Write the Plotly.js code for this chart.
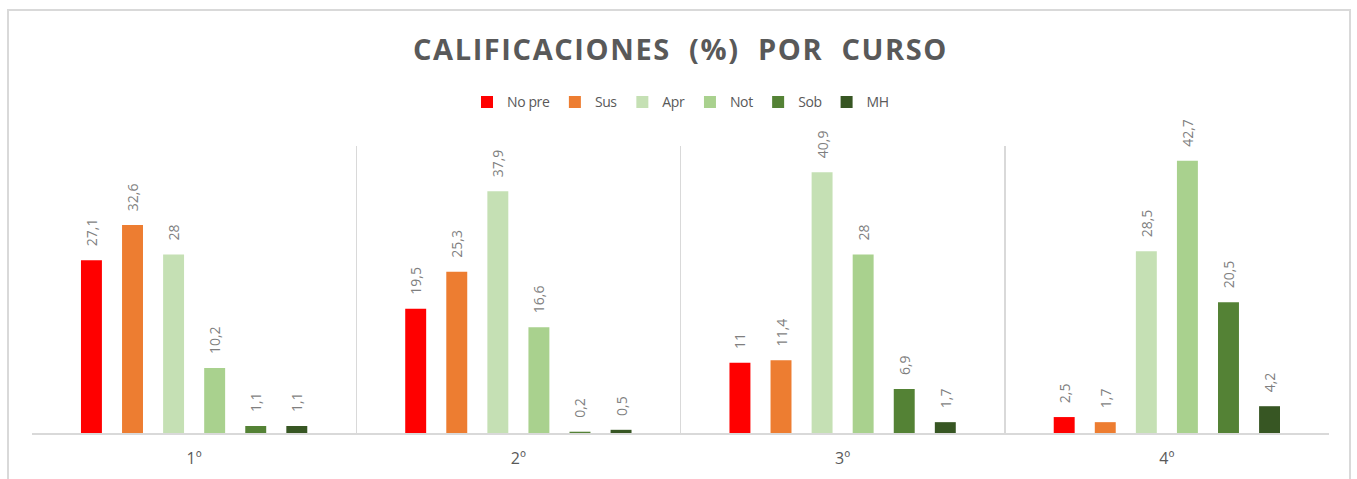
<!DOCTYPE html>
<html>
<head>
<meta charset="utf-8">
<script src="https://cdn.plot.ly/plotly-3.0.1.min.js"></script>
<style>
html, body { margin: 0; padding: 0; background: #ffffff; }
#wrap { position: relative; width: 1357px; height: 479px; overflow: hidden; }
#chart { position: absolute; left: 0; top: 0; width: 1357px; height: 479px; }
#frame { position: absolute; left: 7px; top: 9px; width: 1344px; height: 500px;
  border: 2px solid #d9d9d9; box-sizing: border-box; pointer-events: none; }
.gtitle { letter-spacing: 1.6px; }
.legendtext { letter-spacing: -0.4px; }
</style>
</head>
<body>
<div id="wrap">
  <div id="chart"></div>
  <div id="frame"></div>
</div>
<script>
const categories = ["1º", "2º", "3º", "4º"];
const seriesNames = ["No pre", "Sus", "Apr", "Not", "Sob", "MH"];
const noPre = [27.1, 19.5, 11, 2.5];
const sus = [32.6, 25.3, 11.4, 1.7];
const apr = [28, 37.9, 40.9, 28.5];
const notable = [10.2, 16.6, 28, 42.7];
const sob = [1.1, 0.2, 6.9, 20.5];
const mh = [1.1, 0.5, 1.7, 4.2];
const seriesValues = [noPre, sus, apr, notable, sob, mh];
const colors = ["#ff0000", "#ed7d31", "#c5e0b4", "#a9d18e", "#548235", "#375623"];

const pad = "\u00a0\u00a0\u00a0";
const fmt = v => pad + String(v).replace(".", ",");

const traces = seriesNames.map((name, i) => ({
  type: "bar",
  name: name,
  x: categories,
  y: seriesValues[i],
  text: seriesValues[i].map(fmt),
  textposition: "outside",
  textangle: -90,
  constraintext: "none",
  cliponaxis: false,
  textfont: { family: "Open Sans, sans-serif", size: 14, color: "#7f7f7f" },
  marker: { color: colors[i], line: { width: 0 } },
  hoverinfo: "skip"
}));

const layout = {
  width: 1357,
  height: 479,
  margin: { l: 32, r: 28, t: 146, b: 46, pad: 0 },
  paper_bgcolor: "#ffffff",
  plot_bgcolor: "#ffffff",
  barmode: "group",
  bargap: 0.24,
  bargroupgap: 0.49,
  showlegend: true,
  title: {
    text: "<b>CALIFICACIONES  (%)  POR  CURSO</b>",
    x: 0.5,
    xref: "paper",
    xanchor: "center",
    y: 0.895,
    yanchor: "middle",
    font: { family: "Open Sans, sans-serif", size: 29, color: "#595959" }
  },
  legend: {
    orientation: "h",
    x: 0.5,
    xanchor: "center",
    y: 1.152,
    yanchor: "middle",
    font: { family: "Open Sans, sans-serif", size: 14, color: "#595959" },
    itemwidth: 30,
    traceorder: "normal"
  },
  xaxis: {
    type: "category",
    tickson: "boundaries",
    showgrid: true,
    gridcolor: "#d9d9d9",
    gridwidth: 1.5,
    showline: true,
    linecolor: "#d9d9d9",
    linewidth: 2,
    ticks: "",
    ticklabelstandoff: 10,
    tickfont: { family: "Open Sans, sans-serif", size: 16, color: "#595959" },
    fixedrange: true
  },
  yaxis: {
    range: [0, 45],
    showgrid: false,
    zeroline: false,
    showticklabels: false,
    showline: false,
    ticks: "",
    fixedrange: true
  }
};

Plotly.newPlot("chart", traces, layout, { displayModeBar: false, staticPlot: true });
</script>
</body>
</html>
